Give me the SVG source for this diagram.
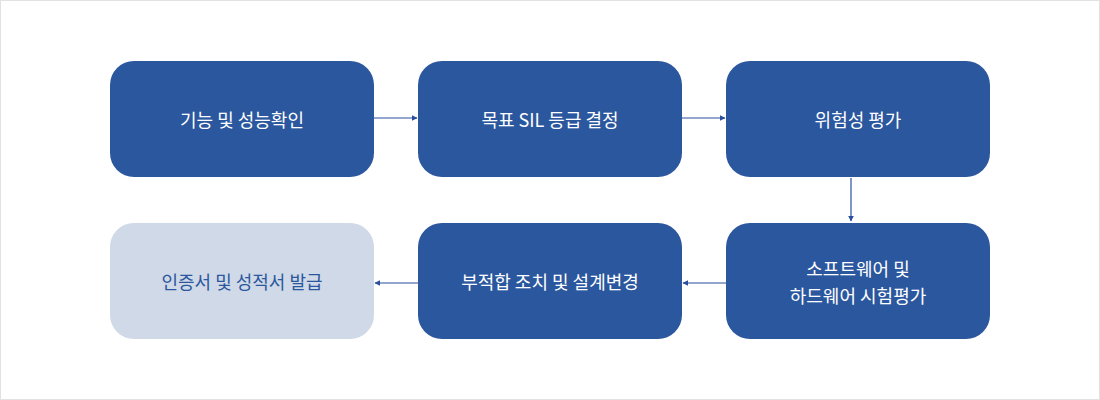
<svg xmlns="http://www.w3.org/2000/svg" width="1100" height="400" viewBox="0 0 1100 400">
<defs>
<style>
.box{fill:#2b579e}
.box2{fill:#d0d9e7}
.t{font-family:"Noto Sans CJK KR","Noto Sans",sans-serif;font-size:18px;fill:#ffffff;text-anchor:middle;dominant-baseline:central}
.t2{fill:#2b579e}
.c{stroke:#2b4f9e;stroke-width:1.2;fill:none}
</style>
<marker id="ah" viewBox="0 0 10 10" refX="9" refY="5" markerWidth="6" markerHeight="6" orient="auto" markerUnits="userSpaceOnUse">
<path d="M0,0 L10,5 L0,10 z" fill="#2b4f9e"/>
</marker>
</defs>
<rect x="0.5" y="0.5" width="1099" height="399" fill="#ffffff" stroke="#e2e2e2"/>
<g id="connectors">
<line class="c" x1="374" y1="118" x2="417" y2="118" marker-end="url(#ah)"/>
<line class="c" x1="682" y1="118" x2="725" y2="118" marker-end="url(#ah)"/>
<line class="c" x1="851" y1="178" x2="851" y2="221" marker-end="url(#ah)"/>
<line class="c" x1="726" y1="283" x2="683" y2="283" marker-end="url(#ah)"/>
<line class="c" x1="418" y1="283" x2="375" y2="283" marker-end="url(#ah)"/>
</g>
<g id="n1"><rect class="box" x="110" y="61" width="264" height="116" rx="24"/><text class="t" x="242" y="119">기능 및 성능확인</text></g>
<g id="n2"><rect class="box" x="418" y="61" width="264" height="116" rx="24"/><text class="t" x="550" y="119">목표 SIL 등급 결정</text></g>
<g id="n3"><rect class="box" x="726" y="61" width="264" height="116" rx="24"/><text class="t" x="858" y="119">위험성 평가</text></g>
<g id="n4"><rect class="box" x="726" y="223" width="264" height="116" rx="24"/><text class="t" x="858" y="268">소프트웨어 및</text><text class="t" x="858" y="295">하드웨어 시험평가</text></g>
<g id="n5"><rect class="box" x="418" y="223" width="264" height="116" rx="24"/><text class="t" x="550" y="281">부적합 조치 및 설계변경</text></g>
<g id="n6"><rect class="box2" x="110" y="223" width="264" height="116" rx="24"/><text class="t t2" x="242" y="281">인증서 및 성적서 발급</text></g>
</svg>
